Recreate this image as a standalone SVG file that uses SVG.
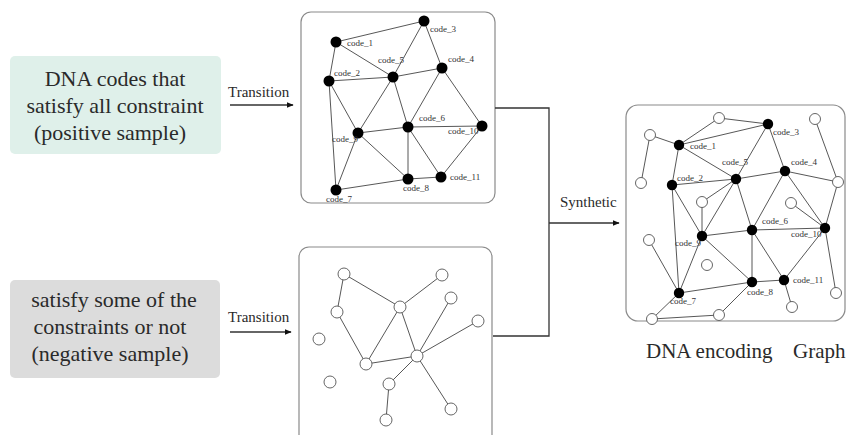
<svg xmlns="http://www.w3.org/2000/svg" width="855" height="435" viewBox="0 0 855 435">
<defs>
<style>
.serif{font-family:"Liberation Serif","DejaVu Serif",serif;fill:#2a2a2a}
.big{font-size:22px;text-anchor:middle}
.lbl{font-size:15px}
.code{font-size:9px;fill:#333}
.panel{fill:#fff;stroke:#8a8a8a;stroke-width:1.2}
.e{stroke:#444;stroke-width:0.9;fill:none}
.con{stroke:#333;stroke-width:1.3;fill:none}
.f{fill:#000}
.o{fill:#fff;stroke:#555;stroke-width:0.9}
</style>
<marker id="ah" viewBox="0 0 10 10" refX="9" refY="5" markerWidth="7" markerHeight="7" orient="auto" markerUnits="userSpaceOnUse">
<path d="M0,1 L10,5 L0,9 z" fill="#111"/>
</marker>
</defs>

<g id="positive-box">
<rect x="10" y="56" width="211" height="98" rx="5" fill="#dff0ea"/>
<text class="serif big" x="115" y="86">DNA codes that</text>
<text class="serif big" x="115" y="113">satisfy all constraint</text>
<text class="serif big" x="110" y="140">(positive sample)</text>
</g>

<g id="negative-box">
<rect x="10" y="280" width="210" height="98" rx="5" fill="#dcdcdc"/>
<text class="serif big" x="114" y="307">satisfy some of the</text>
<text class="serif big" x="110" y="334">constraints or not</text>
<text class="serif big" x="110" y="361">(negative sample)</text>
</g>

<g id="positive-graph-panel"><rect class="panel" x="301" y="12" width="194" height="191" rx="10"/></g>
<g id="negative-graph-panel"><rect class="panel" x="299" y="247" width="193" height="200" rx="10"/></g>
<g id="dna-encoding-graph-panel">
<rect class="panel" x="626" y="105" width="219" height="216" rx="12"/>
<text class="serif" x="646" y="358" font-size="21">DNA encoding</text>
<text class="serif" x="793" y="358" font-size="21">Graph</text>
</g>

<g id="connectors">
<g id="flow">
<line class="con" x1="230" y1="105" x2="293" y2="105" marker-end="url(#ah)"/>
<text class="serif lbl" x="228" y="97">Transition</text>
<line class="con" x1="230" y1="332" x2="291" y2="332" marker-end="url(#ah)"/>
<text class="serif lbl" x="228" y="322">Transition</text>
<polyline class="con" points="495,108 549,108 549,336 493,336"/>
<line class="con" x1="549" y1="223" x2="619" y2="223" marker-end="url(#ah)"/>
<text class="serif lbl" x="560" y="207">Synthetic</text>
</g>
<g id="top-edges">
<line class="e" x1="336" y1="42" x2="424" y2="21"/>
<line class="e" x1="336" y1="42" x2="329" y2="81"/>
<line class="e" x1="336" y1="42" x2="393" y2="77"/>
<line class="e" x1="424" y1="21" x2="393" y2="77"/>
<line class="e" x1="424" y1="21" x2="442" y2="68"/>
<line class="e" x1="329" y1="81" x2="393" y2="77"/>
<line class="e" x1="393" y1="77" x2="442" y2="68"/>
<line class="e" x1="329" y1="81" x2="358" y2="133"/>
<line class="e" x1="329" y1="81" x2="336" y2="190"/>
<line class="e" x1="393" y1="77" x2="358" y2="133"/>
<line class="e" x1="393" y1="77" x2="408" y2="127"/>
<line class="e" x1="442" y1="68" x2="408" y2="127"/>
<line class="e" x1="442" y1="68" x2="482" y2="126"/>
<line class="e" x1="408" y1="127" x2="482" y2="126"/>
<line class="e" x1="358" y1="133" x2="408" y2="127"/>
<line class="e" x1="358" y1="133" x2="408" y2="179"/>
<line class="e" x1="358" y1="133" x2="336" y2="190"/>
<line class="e" x1="408" y1="127" x2="408" y2="179"/>
<line class="e" x1="408" y1="127" x2="441" y2="177"/>
<line class="e" x1="482" y1="126" x2="441" y2="177"/>
<line class="e" x1="408" y1="179" x2="441" y2="177"/>
<line class="e" x1="336" y1="190" x2="408" y2="179"/>
</g>
<g id="bottom-edges">
<line class="e" x1="344" y1="274" x2="337" y2="312"/>
<line class="e" x1="344" y1="274" x2="400" y2="307"/>
<line class="e" x1="400" y1="307" x2="442" y2="275"/>
<line class="e" x1="337" y1="312" x2="366" y2="364"/>
<line class="e" x1="400" y1="307" x2="366" y2="364"/>
<line class="e" x1="400" y1="307" x2="417" y2="356"/>
<line class="e" x1="366" y1="364" x2="417" y2="356"/>
<line class="e" x1="417" y1="356" x2="451" y2="298"/>
<line class="e" x1="417" y1="356" x2="478" y2="321"/>
<line class="e" x1="417" y1="356" x2="389" y2="384"/>
<line class="e" x1="417" y1="356" x2="451" y2="409"/>
<line class="e" x1="389" y1="384" x2="386" y2="420"/>
</g>
<g id="right-edges">
<line class="e" x1="650" y1="135" x2="679" y2="145"/>
<line class="e" x1="650" y1="135" x2="641" y2="183"/>
<line class="e" x1="719" y1="118" x2="679" y2="145"/>
<line class="e" x1="719" y1="118" x2="768" y2="124"/>
<line class="e" x1="679" y1="145" x2="768" y2="124"/>
<line class="e" x1="679" y1="145" x2="672" y2="185"/>
<line class="e" x1="679" y1="145" x2="736" y2="179"/>
<line class="e" x1="768" y1="124" x2="736" y2="179"/>
<line class="e" x1="768" y1="124" x2="785" y2="171"/>
<line class="e" x1="672" y1="185" x2="736" y2="179"/>
<line class="e" x1="736" y1="179" x2="785" y2="171"/>
<line class="e" x1="785" y1="171" x2="838" y2="182"/>
<line class="e" x1="815" y1="119" x2="838" y2="182"/>
<line class="e" x1="838" y1="182" x2="825" y2="228"/>
<line class="e" x1="785" y1="171" x2="825" y2="228"/>
<line class="e" x1="785" y1="171" x2="752" y2="230"/>
<line class="e" x1="672" y1="185" x2="702" y2="236"/>
<line class="e" x1="672" y1="185" x2="679" y2="293"/>
<line class="e" x1="736" y1="179" x2="702" y2="202"/>
<line class="e" x1="702" y1="202" x2="702" y2="236"/>
<line class="e" x1="736" y1="179" x2="702" y2="236"/>
<line class="e" x1="736" y1="179" x2="752" y2="230"/>
<line class="e" x1="752" y1="230" x2="825" y2="228"/>
<line class="e" x1="791" y1="203" x2="825" y2="228"/>
<line class="e" x1="702" y1="236" x2="752" y2="230"/>
<line class="e" x1="702" y1="236" x2="752" y2="282"/>
<line class="e" x1="702" y1="236" x2="679" y2="293"/>
<line class="e" x1="649" y1="240" x2="679" y2="293"/>
<line class="e" x1="752" y1="230" x2="752" y2="282"/>
<line class="e" x1="752" y1="230" x2="784" y2="280"/>
<line class="e" x1="825" y1="228" x2="784" y2="280"/>
<line class="e" x1="825" y1="228" x2="836" y2="293"/>
<line class="e" x1="752" y1="282" x2="784" y2="280"/>
<line class="e" x1="784" y1="280" x2="792" y2="307"/>
<line class="e" x1="679" y1="293" x2="752" y2="282"/>
<line class="e" x1="679" y1="293" x2="652" y2="319"/>
<line class="e" x1="652" y1="319" x2="719" y2="315"/>
<line class="e" x1="719" y1="315" x2="752" y2="282"/>
</g>
</g>

<g id="positive-graph">
<g id="p-code_1"><circle class="f" cx="336" cy="42" r="5.5"/><text class="serif code" x="347" y="46">code_1</text></g>
<g id="p-code_2"><circle class="f" cx="329" cy="81" r="5.5"/><text class="serif code" x="334" y="76">code_2</text></g>
<g id="p-code_3"><circle class="f" cx="424" cy="21" r="5.5"/><text class="serif code" x="430" y="32">code_3</text></g>
<g id="p-code_4"><circle class="f" cx="442" cy="68" r="5.5"/><text class="serif code" x="448" y="62">code_4</text></g>
<g id="p-code_5"><circle class="f" cx="393" cy="77" r="5.5"/><text class="serif code" x="378" y="63">code_5</text></g>
<g id="p-code_6"><circle class="f" cx="408" cy="127" r="5.5"/><text class="serif code" x="419" y="121">code_6</text></g>
<g id="p-code_7"><circle class="f" cx="336" cy="190" r="5.5"/><text class="serif code" x="326" y="202">code_7</text></g>
<g id="p-code_8"><circle class="f" cx="408" cy="179" r="5.5"/><text class="serif code" x="403" y="191">code_8</text></g>
<g id="p-code_9"><circle class="f" cx="358" cy="133" r="5.5"/><text class="serif code" x="332" y="142">code_9</text></g>
<g id="p-code_10"><circle class="f" cx="482" cy="126" r="5.5"/><text class="serif code" x="448" y="134">code_10</text></g>
<g id="p-code_11"><circle class="f" cx="441" cy="177" r="5.5"/><text class="serif code" x="450" y="180">code_11</text></g>
</g>

<g id="negative-graph">
<g id="n-a"><circle class="o" cx="344" cy="274" r="6"/></g>
<g id="n-b"><circle class="o" cx="337" cy="312" r="6"/></g>
<g id="n-c"><circle class="o" cx="400" cy="307" r="6"/></g>
<g id="n-d"><circle class="o" cx="442" cy="275" r="6"/></g>
<g id="n-e"><circle class="o" cx="451" cy="298" r="6"/></g>
<g id="n-f"><circle class="o" cx="478" cy="321" r="6"/></g>
<g id="n-g"><circle class="o" cx="319" cy="339" r="6"/></g>
<g id="n-h"><circle class="o" cx="417" cy="356" r="6"/></g>
<g id="n-i"><circle class="o" cx="366" cy="364" r="6"/></g>
<g id="n-j"><circle class="o" cx="330" cy="382" r="6"/></g>
<g id="n-k"><circle class="o" cx="389" cy="384" r="6"/></g>
<g id="n-l"><circle class="o" cx="451" cy="409" r="6"/></g>
<g id="n-m"><circle class="o" cx="386" cy="420" r="6"/></g>
</g>

<g id="encoding-graph">
<g id="r-o1"><circle class="o" cx="719" cy="118" r="5.5"/></g>
<g id="r-o2"><circle class="o" cx="650" cy="135" r="5.5"/></g>
<g id="r-o3"><circle class="o" cx="815" cy="119" r="5.5"/></g>
<g id="r-o4"><circle class="o" cx="641" cy="183" r="5.5"/></g>
<g id="r-o5"><circle class="o" cx="838" cy="182" r="5.5"/></g>
<g id="r-o6"><circle class="o" cx="702" cy="202" r="5.5"/></g>
<g id="r-o7"><circle class="o" cx="791" cy="203" r="5.5"/></g>
<g id="r-o8"><circle class="o" cx="649" cy="240" r="5.5"/></g>
<g id="r-o9"><circle class="o" cx="707" cy="265" r="5.5"/></g>
<g id="r-o10"><circle class="o" cx="836" cy="293" r="5.5"/></g>
<g id="r-o11"><circle class="o" cx="792" cy="307" r="5.5"/></g>
<g id="r-o12"><circle class="o" cx="652" cy="319" r="5.5"/></g>
<g id="r-o13"><circle class="o" cx="719" cy="315" r="5.5"/></g>
<g id="r-code_1"><circle class="f" cx="679" cy="145" r="5.2"/><text class="serif code" x="690" y="149">code_1</text></g>
<g id="r-code_2"><circle class="f" cx="672" cy="185" r="5.2"/><text class="serif code" x="677" y="181">code_2</text></g>
<g id="r-code_3"><circle class="f" cx="768" cy="124" r="5.2"/><text class="serif code" x="773" y="135">code_3</text></g>
<g id="r-code_4"><circle class="f" cx="785" cy="171" r="5.2"/><text class="serif code" x="791" y="165">code_4</text></g>
<g id="r-code_5"><circle class="f" cx="736" cy="179" r="5.2"/><text class="serif code" x="722" y="165">code_5</text></g>
<g id="r-code_6"><circle class="f" cx="752" cy="230" r="5.2"/><text class="serif code" x="762" y="224">code_6</text></g>
<g id="r-code_7"><circle class="f" cx="679" cy="293" r="5.2"/><text class="serif code" x="670" y="304">code_7</text></g>
<g id="r-code_8"><circle class="f" cx="752" cy="282" r="5.2"/><text class="serif code" x="747" y="295">code_8</text></g>
<g id="r-code_9"><circle class="f" cx="702" cy="236" r="5.2"/><text class="serif code" x="675" y="246">code_9</text></g>
<g id="r-code_10"><circle class="f" cx="825" cy="228" r="5.2"/><text class="serif code" x="791" y="237">code_10</text></g>
<g id="r-code_11"><circle class="f" cx="784" cy="280" r="5.2"/><text class="serif code" x="793" y="283">code_11</text></g>
</g>
</svg>
